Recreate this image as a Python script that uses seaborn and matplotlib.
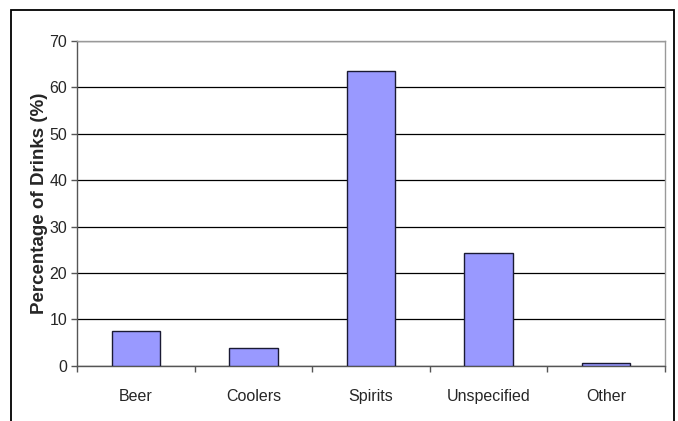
import matplotlib
matplotlib.use("Agg")
import matplotlib.pyplot as plt
import seaborn as sns
import pandas as pd
from matplotlib.patches import Rectangle

categories = ["Beer", "Coolers", "Spirits", "Unspecified", "Other"]
values = [7.5, 3.9, 63.5, 24.3, 0.6]
yticks = [0, 10, 20, 30, 40, 50, 60, 70]

sns.set_theme(style="white")
plt.rcParams['font.family'] = ['Liberation Sans', 'DejaVu Sans']

df = pd.DataFrame({"cat": categories, "val": values})

fig = plt.figure(figsize=(6.78, 4.21), dpi=100)
ax = fig.add_axes([77/678, 1-365.7/421, (665-77)/678, (365.7-41)/421])

sns.barplot(data=df, x="cat", y="val", ax=ax, color="#9999FF", saturation=1,
            width=0.413, edgecolor="#1a1a33", linewidth=1.0, zorder=3)

ax.set_xlim(-0.5, 4.5)
ax.set_ylim(0, 70)
ax.set_yticks(yticks)
ax.set_yticklabels([str(t) for t in yticks], fontsize=11.5)
ax.yaxis.grid(True, color="black", linewidth=0.9, zorder=0)
ax.set_axisbelow(True)

ax.set_xlabel("")
ax.set_ylabel("Percentage of Drinks (%)", fontsize=13.5, fontweight="bold", labelpad=1)

ax.set_xticks(range(len(categories)))
ax.set_xticklabels(categories, fontsize=11.5)
ax.set_xticks([i - 0.5 for i in range(len(categories) + 1)], minor=True)
ax.tick_params(axis="x", which="major", length=0, pad=17)
ax.tick_params(axis="x", which="minor", length=4, width=1, color="#555555", direction="out", bottom=True)
ax.tick_params(axis="y", which="major", length=4, width=1, color="#555555", direction="out", left=True, pad=3)

for s in ["left", "bottom"]:
    ax.spines[s].set_color("#555555")
    ax.spines[s].set_linewidth(1.0)
for s in ["top", "right"]:
    ax.spines[s].set_color("#999999")
    ax.spines[s].set_linewidth(1.0)

border = Rectangle((11/678, -0.1), (674-11)/678, (1-10/421) + 0.1,
                   transform=fig.transFigure, fill=False, edgecolor="black",
                   linewidth=1.3, clip_on=False)
fig.patches.append(border)

fig.savefig("out.png", dpi=100)
